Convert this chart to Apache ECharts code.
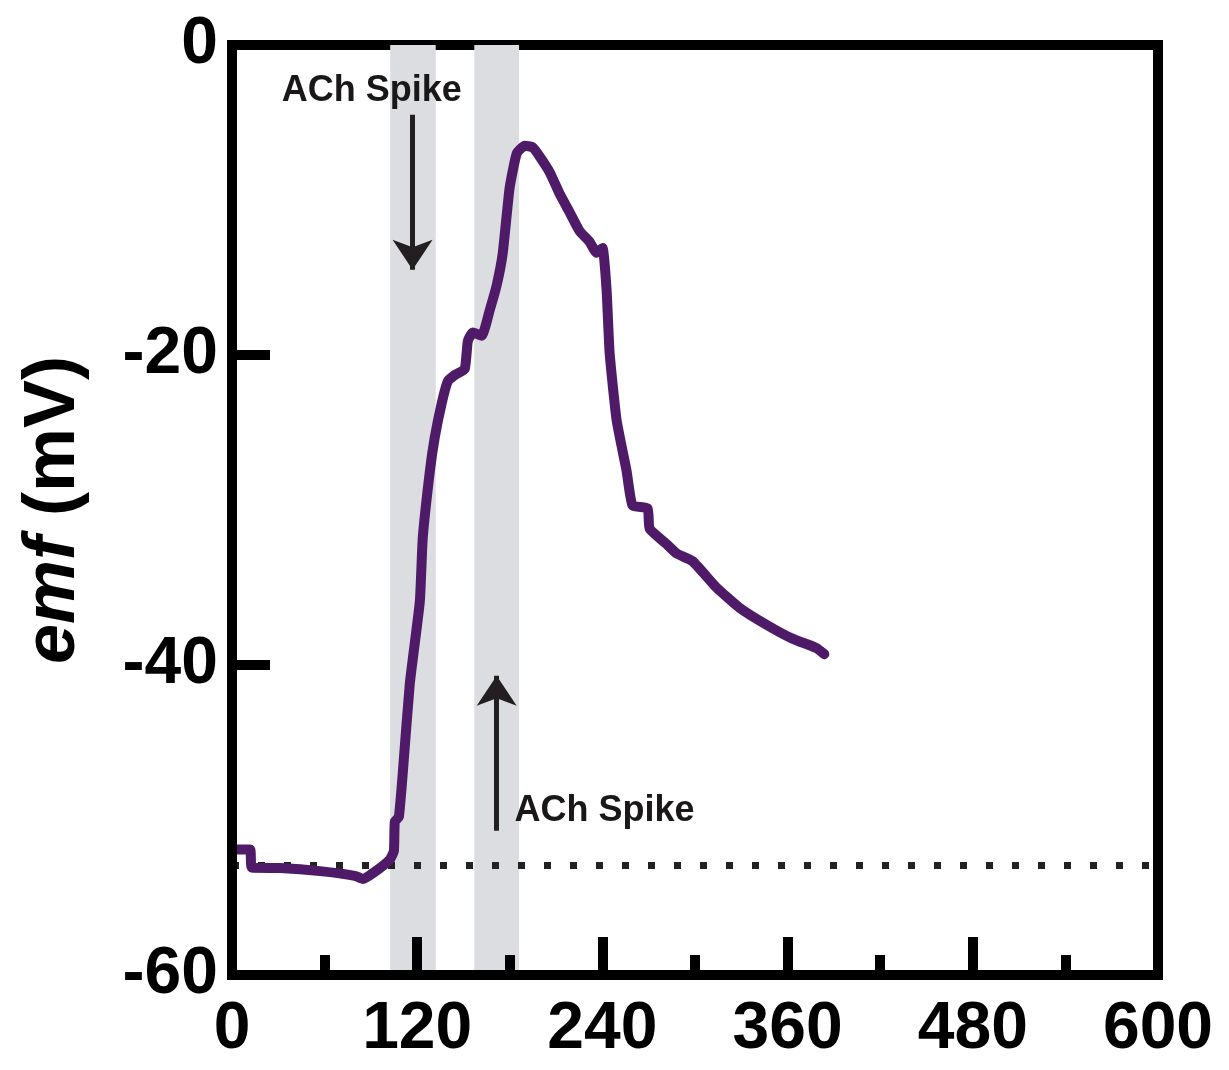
<!DOCTYPE html>
<html>
<head>
  <meta charset="UTF-8">
  <title>emf trace</title>
  <style>
    html, body { margin: 0; padding: 0; background: #fff; }
    #chart { width: 1229px; height: 1070px; }
  </style>
  <script src="https://cdn.jsdelivr.net/npm/echarts@6/dist/echarts.min.js"></script>
</head>
<body>
<div id="chart"></div>
<script>
  // trace
  var timeSec = [1.3, 11.7, 12.9, 31.1, 57, 79.6, 84.8, 94.5, 102.3, 104.9, 105.5, 108.1, 110.7, 115.2,
    121.7, 123.6, 128.2, 131.4, 135.9, 139.8, 144.3, 150.8, 152.8, 156, 161.8, 167, 171.5, 175.4,
    179.9, 184.5, 189.6, 194.8, 199.4, 205.8, 212.3, 218.8, 225.2, 231.7, 236.2, 240.1, 242.7,
    244.7, 249.2, 255.7, 259.5, 269.3, 270.6, 281.6, 288, 298.4, 313.9, 328.8, 346.3, 363.1,
    378.6, 383.8];
  var emfMV = [-51.9, -51.9, -53.07, -53.1, -53.3, -53.6, -53.8, -53.2, -52.55, -52.0, -50.1, -49.8,
    -46.9, -41.2, -35.9, -31.8, -27.5, -25.3, -23.1, -21.7, -21.3, -20.9, -19.1, -18.55, -18.75,
    -17.1, -15.5, -13.45, -9.2, -7.0, -6.5, -6.6, -7.2, -8.2, -9.6, -10.8, -12.0, -12.7, -13.4,
    -13.1, -15.8, -19.9, -24.2, -27.5, -29.7, -29.9, -31.2, -32.2, -32.8, -33.3, -35.0, -36.3,
    -37.4, -38.3, -38.9, -39.3];

  // ACh spike windows (s)
  var bandStart = [102.5, 157];
  var bandEnd = [132, 186];

  var baselineMV = -52.9;

  // arrows: x, from y, to y
  var arrowX = [117, 171.5];
  var arrowFrom = [-4.5, -50.7];
  var arrowTo = [-14.5, -40.7];

  var noteText = ['ACh Spike', 'ACh Spike'];
  var noteX = [90.6, 241.4];
  var noteY = [-3.0, -49.45];

  var xTicks = { min: 0, max: 600, step: 120 };
  var yTicks = { min: -60, max: 0, step: 20 };

  var lineData = [];
  for (var i = 0; i < timeSec.length; i++) {
    lineData.push([timeSec[i], emfMV[i]]);
  }

  var bands = [];
  for (var b = 0; b < bandStart.length; b++) {
    bands.push([{ xAxis: bandStart[b] }, { xAxis: bandEnd[b] }]);
  }

  var lines = [[
    { coord: [xTicks.min, baselineMV], symbol: 'none',
      lineStyle: { color: '#222', width: 7, type: [7, 19], cap: 'butt' } },
    { coord: [xTicks.max, baselineMV], symbol: 'none' }
  ]];
  for (var a = 0; a < arrowX.length; a++) {
    lines.push([
      { coord: [arrowX[a], arrowFrom[a]], symbol: 'none',
        lineStyle: { color: '#231f20', width: 5, type: 'solid' } },
      { coord: [arrowX[a], arrowTo[a]], symbol: 'arrow', symbolSize: 30 }
    ]);
  }

  var notes = [];
  for (var n = 0; n < noteText.length; n++) {
    notes.push({ coord: [noteX[n], noteY[n]], value: noteText[n] });
  }

  var font = '"Liberation Sans", Arial, sans-serif';
  var chart = echarts.init(document.getElementById('chart'));
  chart.setOption({
    animation: false,
    backgroundColor: '#fff',
    grid: {
      left: 232, right: 71, top: 45, bottom: 95,
      show: true, borderColor: '#000', borderWidth: 10
    },
    xAxis: {
      type: 'value',
      z: 10,
      min: xTicks.min, max: xTicks.max, interval: xTicks.step,
      axisLine: { onZero: false, lineStyle: { color: '#000', width: 10 } },
      axisTick: { inside: true, length: 38, lineStyle: { color: '#000', width: 10 } },
      minorTick: { show: true, splitNumber: 2, length: 20, lineStyle: { color: '#000', width: 10 } },
      splitLine: { show: false },
      axisLabel: { color: '#000', fontSize: 66, fontWeight: 'bold', fontFamily: font, margin: 22 }
    },
    yAxis: {
      type: 'value',
      z: 10,
      min: yTicks.min, max: yTicks.max, interval: yTicks.step,
      name: '{i|emf} {n|(mV)}',
      nameLocation: 'middle',
      nameRotate: 90,
      nameGap: 142,
      nameTextStyle: {
        color: '#000',
        fontFamily: font,
        fontWeight: 'bold',
        fontSize: 72,
        rich: {
          i: { fontStyle: 'italic', fontWeight: 'bold', fontSize: 72, fontFamily: font, color: '#000' },
          n: { fontWeight: 'bold', fontSize: 72, fontFamily: font, color: '#000' }
        }
      },
      axisLine: { onZero: false, lineStyle: { color: '#000', width: 10 } },
      axisTick: { inside: true, length: 38, lineStyle: { color: '#000', width: 10 } },
      splitLine: { show: false },
      axisLabel: { color: '#000', fontSize: 66, fontWeight: 'bold', fontFamily: font, margin: 14 }
    },
    series: [{
      type: 'line',
      data: lineData,
      showSymbol: false,
      smooth: 0.15,
      lineStyle: { color: '#4f1a68', width: 10, join: 'round', cap: 'round' },
      z: 5,
      markArea: {
        silent: true,
        itemStyle: { color: '#dcdde0' },
        data: bands
      },
      markLine: {
        silent: true,
        symbol: ['none', 'none'],
        label: { show: false },
        data: lines
      },
      markPoint: {
        silent: true,
        symbol: 'rect',
        symbolSize: 1,
        itemStyle: { color: 'rgba(0,0,0,0)' },
        label: {
          show: true,
          position: 'inside',
          formatter: '{c}',
          color: '#1a1718',
          fontFamily: font,
          fontWeight: 'bold',
          fontSize: 36
        },
        data: notes
      }
    }]
  });
</script>
</body>
</html>
